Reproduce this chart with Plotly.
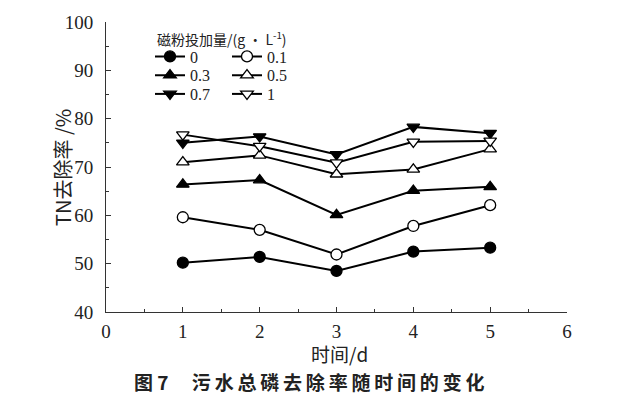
import plotly.graph_objects as go

days = [1, 2, 3, 4, 5]
dose_labels = ["0", "0.1", "0.3", "0.5", "0.7", "1"]
s_0 = [50.2, 51.4, 48.5, 52.5, 53.3]
s_01 = [59.6, 57.0, 51.9, 57.8, 62.1]
s_03 = [66.4, 67.3, 60.1, 65.1, 65.9]
s_05 = [71.0, 72.4, 68.5, 69.5, 73.7]
s_07 = [75.0, 76.3, 72.6, 78.3, 77.0]
s_1 = [76.7, 74.3, 70.9, 75.2, 75.4]

series = [s_0, s_01, s_03, s_05, s_07, s_1]
symbols = ["circle", "circle", "triangle-up", "triangle-up", "triangle-down", "triangle-down"]
fills = ["black", "white", "black", "white", "black", "white"]

serif = "'Liberation Serif', 'Times New Roman', Times, serif"
cjk = "Noto Sans CJK SC"

# plot area in pixels
L, R, T, B = 106, 567, 18, 312
W, H = R - L, B - T

def px_x(p):
    return (p - L) / W

def px_y(p):
    return (B - p) / H

legend_names = ["legend", "legend2", "legend3", "legend4", "legend5", "legend6"]
col_x = [150, 227]
row_y = [53, 72, 91]

fig = go.Figure()
layout_legends = {}
for i, (lab, ys, sym, fc) in enumerate(zip(dose_labels, series, symbols, fills)):
    lg = legend_names[i]
    fig.add_trace(go.Scatter(
        x=days, y=ys, name=lab, mode="lines+markers",
        line=dict(color="black", width=2),
        marker=dict(symbol=sym, size=11, color=fc, line=dict(color="black", width=1.3)),
        legend=lg,
    ))
    layout_legends[lg] = dict(
        x=px_x(col_x[i % 2]), y=px_y(row_y[i // 2]),
        xanchor="left", yanchor="middle",
        bgcolor="rgba(0,0,0,0)", borderwidth=0,
        font=dict(family=serif, size=16, color="#222"),
        itemwidth=30,
    )

fig.update_layout(
    width=643, height=401,
    margin=dict(l=L, r=643 - R, t=T, b=401 - B),
    paper_bgcolor="white", plot_bgcolor="white",
    showlegend=True,
    **layout_legends,
    xaxis=dict(
        range=[0, 6], dtick=1, tick0=0, ticks="inside", ticklen=5, tickcolor="#333",
        showline=True, linecolor="#333", linewidth=1, showgrid=False, zeroline=False,
        minor=dict(dtick=0.5, ticks="inside", ticklen=3, tickcolor="#333", showgrid=False),
        tickfont=dict(family=serif, size=19, color="#222"), ticklabelstandoff=2,
    ),
    yaxis=dict(
        range=[40, 100], dtick=10, tick0=40, ticks="inside", ticklen=5, tickcolor="#333",
        showline=True, linecolor="#333", linewidth=1, showgrid=False, zeroline=False,
        minor=dict(dtick=5, ticks="inside", ticklen=3, tickcolor="#333", showgrid=False),
        tickfont=dict(family=serif, size=19, color="#222"), ticklabelstandoff=8,
    ),
    annotations=[
        dict(text="磁粉投加量/(g · L<sup>-1</sup>)", xref="paper", yref="paper",
             x=px_x(155), y=px_y(35), xanchor="left", yanchor="middle",
             showarrow=False, font=dict(family=cjk, size=14, color="#222")),
        dict(text="TN去除率 /%", xref="paper", yref="paper",
             x=px_x(63), y=px_y(166), xanchor="center", yanchor="middle", textangle=-90,
             showarrow=False, font=dict(family=cjk, size=20, color="#222")),
        dict(text="时间/d", xref="paper", yref="paper",
             x=px_x(339), y=px_y(354), xanchor="center", yanchor="middle",
             showarrow=False, font=dict(family=cjk, size=19, color="#222")),
        dict(text="<b>图 7　 污\u2009水\u2009总\u2009磷\u2009去\u2009除\u2009率\u2009随\u2009时\u2009间\u2009的\u2009变\u2009化</b>",
             xref="paper", yref="paper",
             x=px_x(309), y=px_y(382), xanchor="center", yanchor="middle",
             showarrow=False, font=dict(family=cjk, size=19, color="#222")),
    ],
)

fig.write_html("out.html", config={"displayModeBar": False},
               post_script="document.body.style.margin='0';")
